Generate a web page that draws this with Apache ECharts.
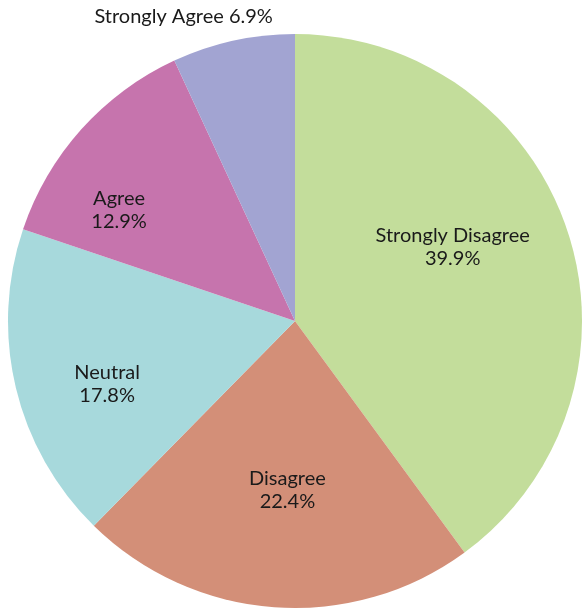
<!DOCTYPE html>
<html>
<head>
<meta charset="utf-8">
<script src="https://cdn.jsdelivr.net/npm/echarts@6/dist/echarts.min.js"></script>
<style>
  html, body { margin: 0; padding: 0; background: #fff; }
  #chart { width: 582px; height: 609px; }
</style>
</head>
<body>
<div id="chart"></div>
<script>
var categories = ['Strongly Disagree', 'Disagree', 'Neutral', 'Agree', 'Strongly Agree'];
var shares = [39.9, 22.4, 17.8, 12.9, 6.9];
var colors = ['#c3dd9b', '#d38f78', '#a7d9dc', '#c674ad', '#a2a4d2'];

// small nudges so the labels sit where the original put them
var labelNudge = {
    'Strongly Disagree': [-21, -16],
    'Disagree': [6, -18],
    'Neutral': [-5, 19],
    'Agree': [-36, 15]
};

var pieData = categories.map(function (name, i) {
    return { name: name, value: shares[i], itemStyle: { color: colors[i] } };
});

// labels drawn by a second, invisible ring so they sit further out than the half radius
var labelData = categories.map(function (name, i) {
    var item = { name: name, value: shares[i] };
    if (name === 'Strongly Agree') {
        item.label = {
            position: 'outside',
            formatter: '{b} {c}%',
            offset: [41, -41]
        };
        item.labelLine = { show: false, length: 0, length2: 0 };
    } else {
        item.label = { offset: labelNudge[name] };
    }
    return item;
});

var myChart = echarts.init(document.getElementById('chart'));
myChart.setOption({
    animation: false,
    textStyle: { fontFamily: 'Lato' },
    series: [{
        type: 'pie',
        center: [295, 321],
        radius: [0, 287],
        startAngle: 90,
        clockwise: true,
        silent: true,
        label: { show: false },
        itemStyle: { borderWidth: 0 },
        data: pieData
    }, {
        type: 'pie',
        center: [295, 321],
        radius: [100, 270],
        startAngle: 90,
        clockwise: true,
        silent: true,
        itemStyle: { color: 'rgba(0,0,0,0)', borderWidth: 0 },
        label: {
            show: true,
            position: 'inside',
            formatter: '{b}\n{c}%',
            color: '#1a1a1a',
            fontSize: 20,
            lineHeight: 23,
            fontFamily: 'Lato'
        },
        labelLine: { show: false },
        data: labelData
    }]
});
</script>
</body>
</html>
